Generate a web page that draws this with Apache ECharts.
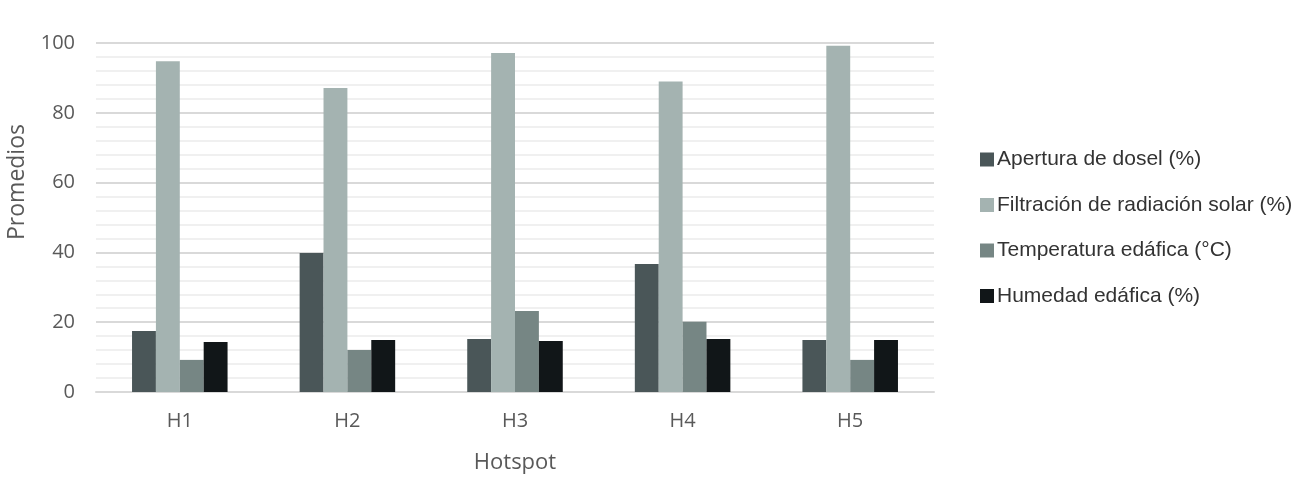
<!DOCTYPE html>
<html><head><meta charset="utf-8">
<script src="https://cdn.jsdelivr.net/npm/echarts@6/dist/echarts.min.js"></script>
<style>html,body{margin:0;padding:0;background:#fff}#c{width:1300px;height:484px}</style>
</head><body><div id="c"></div>
<script>
const categories = ['H1','H2','H3','H4','H5'];
const apertura = [17.5, 39.8, 15.2, 36.7, 14.9];
const filtracion = [94.8, 87.1, 97.1, 89.0, 99.2];
const temperatura = [9.2, 12.0, 23.2, 20.1, 9.2];
const humedad = [14.3, 14.9, 14.6, 15.2, 14.9];
const seriesNames = ['Apertura de dosel (%)','Filtración de radiación solar (%)','Temperatura edáfica (°C)','Humedad edáfica (%)'];
const colors = ['#4a5658','#a4b3b1','#768684','#111618'];
const data = [apertura, filtracion, temperatura, humedad];
const yAxisTitle = 'Promedios';
const xAxisTitle = 'Hotspot';

const chart = echarts.init(document.getElementById('c'));
chart.setOption({
  animation: false,
  grid: {left: 96, right: 366, top: 43, bottom: 92, outerBoundsMode: 'none', containLabel: false},
  graphic: [{
    type: 'text', x: 17, y: 182, rotation: Math.PI / 2,
    style: {text: yAxisTitle, font: '23px "Open Sans"', fill: '#595959', align: 'center', verticalAlign: 'middle'}
  }],
  legend: {
    orient: 'vertical', left: 975, top: 144, itemGap: 24.5,
    itemWidth: 14, itemHeight: 14, icon: 'rect',
    textStyle: {fontFamily: 'Liberation Sans, Arial', fontSize: 21, color: '#333', padding: [0,0,0,-2]},
    data: seriesNames
  },
  xAxis: {
    type: 'category', data: categories,
    name: xAxisTitle, nameLocation: 'middle', nameGap: 60,
    nameTextStyle: {fontFamily: 'Open Sans', fontSize: 22, color: '#595959'},
    axisLine: {lineStyle: {color: '#d9d9d9', width: 2}},
    axisTick: {show: false},
    axisLabel: {fontFamily: 'Open Sans', fontSize: 20, color: '#595959', margin: 19}
  },
  yAxis: {
    type: 'value', min: 0, max: 100, interval: 20,
    axisLine: {show: false}, axisTick: {show: false},
    axisLabel: {fontFamily: 'Open Sans', fontSize: 20, color: '#595959', margin: 21},
    splitLine: {lineStyle: {color: '#d9d9d9', width: 2}},
    minorTick: {show: false, splitNumber: 5},
    minorSplitLine: {show: true, lineStyle: {color: '#ececec', width: 1.5}}
  },
  series: seriesNames.map((n, i) => ({
    name: n, type: 'bar', data: data[i],
    itemStyle: {color: colors[i]},
    barGap: '0%', barCategoryGap: '43%'
  }))
});
</script></body></html>
